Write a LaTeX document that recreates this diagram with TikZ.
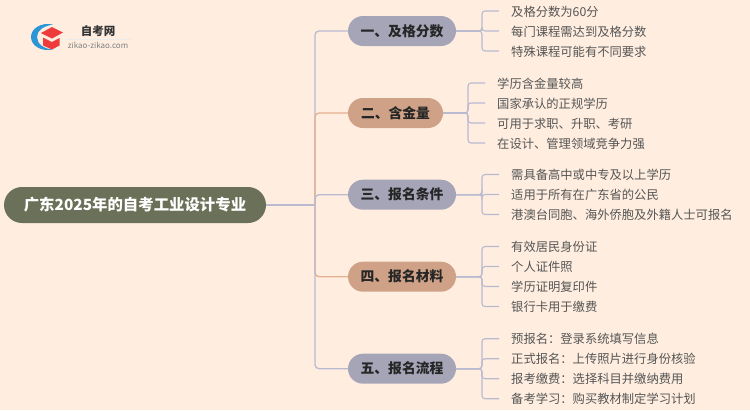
\documentclass[tikz,border=0pt]{standalone}
\usepackage{fontspec}
\setmainfont{Noto Sans CJK SC}
\definecolor{bg}{HTML}{FFEEE0}
\definecolor{rootc}{HTML}{6B7058}
\definecolor{blu}{HTML}{A6A5B8}
\definecolor{ora}{HTML}{CFA287}
\definecolor{lnb}{HTML}{B9B9D0}
\definecolor{lno}{HTML}{E6B090}
\definecolor{txt}{HTML}{555555}
\definecolor{logob}{HTML}{2A96D6}
\definecolor{logor}{HTML}{EE3B3B}
\tikzset{
 rootn/.style={rounded rectangle,fill=rootc,text=white,font=\fontsize{15.4}{17}\selectfont\bfseries,minimum width=262pt,minimum height=36pt,inner sep=0pt},
 pill/.style={rounded rectangle,font=\fontsize{13.8}{16}\selectfont\bfseries,text=black!85,minimum height=30pt,inner sep=0pt},
 leaf/.style={anchor=west,font=\fontsize{12.3}{14}\selectfont,text=txt,inner sep=0pt,text height=11.5pt,text depth=1.5pt},
 br/.style={lnb,line width=1.1pt,rounded corners=3pt},
 sp/.style={line width=1.3pt,rounded corners=4pt},
}
\usetikzlibrary{shapes.misc}
\begin{document}
\begin{tikzpicture}[x=1pt,y=-1pt]
\useasboundingbox[fill=bg] (0,0) rectangle (750,410);
% logo
\fill[logob] (53,24.5) .. controls (40,22) and (31,29) .. (31,37) .. controls (31,45) and (40,52) .. (53,49.5) .. controls (44,49) and (37,44) .. (37,37) .. controls (37,30) and (44,26) .. (53,24.5) -- cycle;
\fill[logor] (41,33) -- (52,27) -- (63,32.5) -- (52,38.5) -- cycle;
\fill[logor] (43,37.5) -- (52,42) -- (59.5,38) -- (59.5,45.5) -- (52,49.5) -- (43,45.5) -- cycle;
\draw[black!8,line width=0.6pt] (66,39) -- (131,39);
\node[font=\fontsize{11.5}{13}\selectfont\bfseries,text=black!80,inner sep=0pt] (logot) at (98,31) {自考网};
\node[font=\fontsize{8}{10}\selectfont,text=black!50,inner sep=0pt] (logos) at (98,45) {zikao-zikao.com};
% nodes
\node[rootn] (root) at (135,205) {广东2025年的自考工业设计专业};
\node[pill,fill=blu,minimum width=108pt] (a) at (402,31) {一、及格分数};
\node[pill,fill=ora,minimum width=95pt] (b) at (395.5,113) {二、含金量};
\node[pill,fill=blu,minimum width=108pt] (c) at (402,194.7) {三、报名条件};
\node[pill,fill=ora,minimum width=108pt] (d) at (402,276.7) {四、报名材料};
\node[pill,fill=blu,minimum width=108pt] (e) at (402,368.7) {五、报名流程};
\foreach \n/\t/\x/\y in {
 a1/及格分数为60分/511/11, a2/每门课程需达到及格分数/511/31, a3/特殊课程可能有不同要求/511/51,
 b1/学历含金量较高/497/83, b2/国家承认的正规学历/497/103, b3/可用于求职、升职、考研/497/123, b4/在设计、管理领域竞争力强/497/143,
 c1/需具备高中或中专及以上学历/511/174.5, c2/适用于所有在广东省的公民/511/194.5, c3/港澳台同胞、海外侨胞及外籍人士可报名/511/214.5,
 d1/有效居民身份证/511/246.5, d2/个人证件照/511/266.5, d3/学历证明复印件/511/286.5, d4/银行卡用于缴费/511/306.5,
 e1/预报名：登录系统填写信息/511/338.7, e2/正式报名：上传照片进行身份核验/511/358.7, e3/报考缴费：选择科目并缴纳费用/511/378.7, e4/备考学习：购买教材制定学习计划/511/398.7}
 {\node[leaf] (\n) at (\x,\y) {\t};}
% spine
\coordinate (sj) at (315,205);
\draw[lnb,sp] (root.east) -- (sj);
\draw[lnb,sp] (sj) -- (315,31) -- (a.west);
\draw[lno,sp] (sj) -- (315,113) -- (b.west);
\draw[lnb,sp] (sj) -- (315,194.7) -- (c.west);
\draw[lno,sp] (sj) -- (315,276.7) -- (d.west);
\draw[lnb,sp] (sj) -- (315,368.7) -- (e.west);
% brackets
\foreach \p/\l/\bx in {a/a1/482,a/a2/482,a/a3/482,b/b1/468,b/b2/468,b/b3/468,b/b4/468,c/c1/482,c/c2/482,c/c3/482,d/d1/482,d/d2/482,d/d3/482,d/d4/482,e/e1/482,e/e2/482,e/e3/482,e/e4/482}
 {\draw[br] (\p.east) -- (\p.east -| \bx,0) -- (\l.west -| \bx,0) -- ([xshift=-12pt]\l.west);}
\end{tikzpicture}
\end{document}
